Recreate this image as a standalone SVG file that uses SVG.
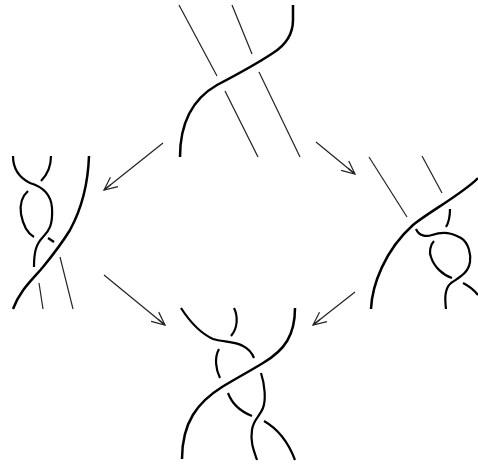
<svg xmlns="http://www.w3.org/2000/svg" width="478" height="466" viewBox="0 0 478 466">
<style>
.bg{fill:#fff}
.thick,.mid,.thin,.arrow,.head{fill:none}
.thick{stroke:#000;stroke-width:2.5}
.mid{stroke:#000;stroke-width:2.2}
.thin{stroke:#222;stroke-width:1.2}
.arrow,.head{stroke:#222;stroke-width:1.2}
</style>
<defs>
<path id="ah" class="head" d="M-13 -6 L0 0 L-13 6 M-9 0 L0 0"/>
</defs>
<rect class="bg" width="478" height="466"/>
<g id="connectors">
<path class="arrow" d="M163 143 L104 190"/><use href="#ah" transform="translate(104 190) rotate(141.5)"/>
<path class="arrow" d="M316 142 L355 174"/><use href="#ah" transform="translate(355 174) rotate(39.4)"/>
<path class="arrow" d="M104 275 L165 325"/><use href="#ah" transform="translate(165 325) rotate(39.3)"/>
<path class="arrow" d="M355 292 L313 325"/><use href="#ah" transform="translate(313 325) rotate(141.8)"/>
</g>
<g id="node-top">
<path class="thick" d="M293 5 V20 C293 35 284 46 273 53 C258 63 238 74 217 85 C196 97 180 118 180 157"/>
<path class="thin" d="M179 5 L217 76"/>
<path class="thin" d="M232 5 L252 54"/>
<path class="thin" d="M225 91 L258 157"/>
<path class="thin" d="M259 72 L300 157"/>
</g>
<g id="node-left">
<path class="thick" d="M89 156 C88 185 82 208 70 230 C62 243 52 256 43 267 C33 279 20 290 13 309"/>
<path class="thin" d="M39 283 L43 309"/>
<path class="thin" d="M60 257 L73 309"/>
<path class="mid" d="M13 156 C13 170 20 178 30 183 C40 186 51 192 52 208 C53 225 49 231 43 237 C36 244 34 252 34 267"/>
<path class="mid" d="M51 156 C51 168 47 175 41 181"/>
<path class="mid" d="M28 191 C20 198 20 207 21 214 C23 225 27 233 34 237"/>
<path class="mid" d="M48 238 L54 242"/>
</g>
<g id="node-right">
<path class="thick" d="M371 309 C372 285 385 250 413 225 C426 214 465 192 478 178"/>
<path class="thin" d="M369 157 L407 217"/>
<path class="thin" d="M422 156 L442 193"/>
<path class="mid" d="M450 209 C450 216 449 222 446 227"/>
<path class="mid" d="M416 229 C419 236 426 237 432 235 C444 231 452 233 461 238 C469 243 471 255 470 262 C468 274 458 278 451 283 C444 289 445 300 446 309"/>
<path class="mid" d="M434 241 C430 245 429 253 431 257 C434 267 443 275 452 278"/>
<path class="mid" d="M463 283 C469 286 474 290 478 295"/>
</g>
<g id="node-bottom">
<path class="thick" d="M295 308 C295 335 285 350 263 363 C250 371 235 379 222 387 C198 402 182 422 182 459"/>
<path class="mid" d="M181 308 C190 322 200 333 213 339 C222 342 235 341 243 346 C249 349 252 353 254 358"/>
<path class="mid" d="M234 308 C238 316 238 328 231 336"/>
<path class="mid" d="M219 349 C214 358 216 370 220 378"/>
<path class="mid" d="M261 373 C265 385 266 400 263 408 C260 416 253 420 252 430 C250 442 254 451 257 460"/>
<path class="mid" d="M228 393 C232 404 242 412 252 416"/>
<path class="mid" d="M264 421 C278 429 289 444 295 460"/>
</g>
</svg>
